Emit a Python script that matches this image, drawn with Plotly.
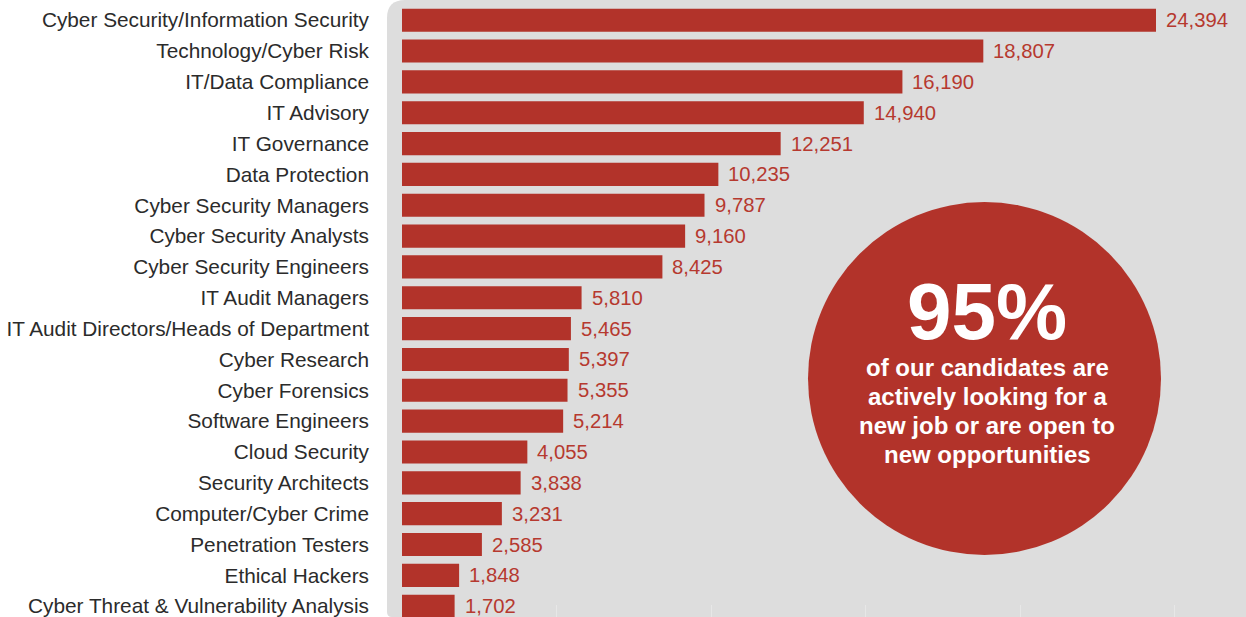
import plotly.graph_objects as go

categories = [
    "Cyber Security/Information Security",
    "Technology/Cyber Risk",
    "IT/Data Compliance",
    "IT Advisory",
    "IT Governance",
    "Data Protection",
    "Cyber Security Managers",
    "Cyber Security Analysts",
    "Cyber Security Engineers",
    "IT Audit Managers",
    "IT Audit Directors/Heads of Department",
    "Cyber Research",
    "Cyber Forensics",
    "Software Engineers",
    "Cloud Security",
    "Security Architects",
    "Computer/Cyber Crime",
    "Penetration Testers",
    "Ethical Hackers",
    "Cyber Threat & Vulnerability Analysis",
]
values = [24394, 18807, 16190, 14940, 12251, 10235, 9787, 9160, 8425, 5810,
          5465, 5397, 5355, 5214, 4055, 3838, 3231, 2585, 1848, 1702]

headline = "95%"
subtext_lines = [
    "of our candidates are",
    "actively looking for a",
    "new job or are open to",
    "new opportunities",
]

BAR = "#b2332a"
LABEL_RED = "#b6392f"
PANEL = "#dddddd"
FONT = "Liberation Sans, Arial, Helvetica, sans-serif"

W, H = 1246, 617
L = 402
PW = W - L

fig = go.Figure(go.Bar(
    x=values, y=categories, orientation="h",
    marker=dict(color=BAR, line=dict(width=0)),
    hoverinfo="skip",
))

for v, c in zip(values, categories):
    fig.add_annotation(x=v, y=c, text=f"{v:,}", showarrow=False,
                       xanchor="left", yanchor="middle", xshift=8,
                       font=dict(family=FONT, size=20.3, color=LABEL_RED))

# grey panel with rounded left corners (paper coords)
x0 = (387 - L) / PW
rx = 18 / PW
ry = 18 / H
rbx = 5 / PW
rby = 5 / H
path = (f"M {x0+rx},1 L 1.01,1 L 1.01,0 L {x0+rbx},0 "
        f"Q {x0},0 {x0},{rby} L {x0},{1-ry} Q {x0},1 {x0+rx},1 Z")
fig.add_shape(type="path", path=path, xref="paper", yref="paper",
              fillcolor=PANEL, line=dict(width=0), layer="below")

# circle
cx, cy, r = 984.5, 378.5, 176.5
fig.add_shape(type="circle", xref="paper", yref="paper",
              x0=(cx - r - L) / PW, x1=(cx + r - L) / PW,
              y0=1 - (cy + r) / H, y1=1 - (cy - r) / H,
              fillcolor=BAR, line=dict(width=0), layer="above")

fig.add_annotation(x=(987 - L) / PW, y=1 - 311 / H, xref="paper", yref="paper",
                   text=f"<b>{headline}</b>", showarrow=False,
                   xanchor="center", yanchor="middle",
                   font=dict(family=FONT, size=80, color="white"))
line_y = [367, 396, 425, 454]
for txt, ly in zip(subtext_lines, line_y):
    fig.add_annotation(x=(987 - L) / PW, y=1 - ly / H, xref="paper", yref="paper",
                       text=f"<b>{txt}</b>", showarrow=False,
                       xanchor="center", yanchor="middle",
                       font=dict(family=FONT, size=24, color="white"))

pitch = 586 / 19
top_idx = -20.2 / pitch
bot_idx = (H - 20.2) / pitch

fig.update_layout(
    width=W, height=H,
    margin=dict(l=L, r=0, t=0, b=0),
    paper_bgcolor="white", plot_bgcolor="rgba(0,0,0,0)",
    bargap=0.25, showlegend=False,
    font=dict(family=FONT),
    xaxis=dict(range=[0, PW / (754 / 24394)], showgrid=False, zeroline=False,
               showticklabels=False, ticks="inside", ticklen=12, tickwidth=1,
               tickcolor="#e7e7e7", tick0=0, dtick=5000, showline=False,
               fixedrange=True),
    yaxis=dict(type="category", categoryorder="array", categoryarray=categories,
               range=[bot_idx, top_idx], showgrid=False, zeroline=False,
               ticks="", showline=False, ticklabelstandoff=32,
               tickfont=dict(family=FONT, size=20.8, color="#2b2b2b"),
               fixedrange=True),
)

fig.write_html(
    "out.html",
    config={"displayModeBar": False},
    post_script="document.body.style.margin='0';document.body.style.overflow='hidden';",
)
